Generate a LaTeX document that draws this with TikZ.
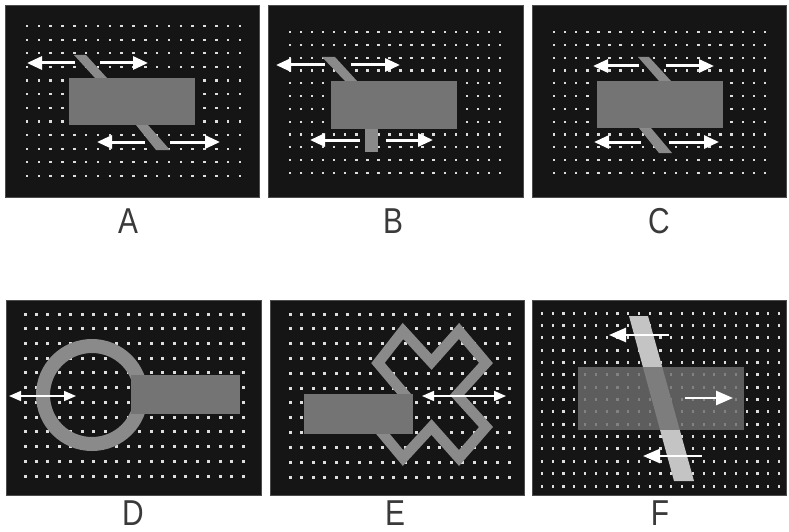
\documentclass[tikz,border=0pt]{standalone}
\usepackage{fontspec}
\setmainfont{Liberation Sans}
\usetikzlibrary{arrows.meta}

\definecolor{panelbg}{HTML}{151515}
\definecolor{dotc}{HTML}{DEDEDE}
\definecolor{occl}{HTML}{747474}
\definecolor{barc}{HTML}{8A8A8A}
\definecolor{lightbar}{HTML}{C4C4C4}
\definecolor{labc}{HTML}{3A3A3A}

% grid of small dots: x0, x1, steps in x, y0, y1, steps in y, dot width, dot height
\newcommand\dotgrid[8]{%
  \foreach \i in {0,...,#3}{%
    \foreach \j in {0,...,#6}{%
      \fill[dotc] ({#1+(#2-#1)*\i/#3-#7/2},{#4+(#5-#4)*\j/#6-#8/2}) rectangle ++(#7,#8);
    }%
  }%
}
% narrow panel letter
\newcommand\panelletter[1]{\scalebox{0.83}[1]{#1}}

\tikzset{
  panel/.style={fill=panelbg, draw=black!70, line width=0.6},
  occluder/.style={fill=occl},
  slab/.style={fill=barc},
  motion/.style={draw=white, line width=3, -{Triangle[length=15pt,width=13pt]}},
  bimotion/.style={draw=white, line width=1.6, {Triangle[length=12pt,width=10pt]}-{Triangle[length=12pt,width=10pt]}},
  fmotion/.style={draw=white, line width=2.6, -{Triangle[length=17pt,width=14pt]}},
  caption/.style={text=labc, font=\fontsize{36}{36}\selectfont, inner sep=0pt}
}

\begin{document}
\begin{tikzpicture}[x=1pt,y=-1pt]
\useasboundingbox (0,0) rectangle (789,532);
\fill[white] (0,0) rectangle (789,532);

% ---------- panel A ----------
\fill[panel] (5,5) rectangle (259,197);
\dotgrid{27}{240}{18}{26}{176}{11}{2.4}{2.2}
\fill[slab] (74,55) -- (86,55) -- (107,78) -- (95,78) -- cycle;
\fill[slab] (136,125) -- (148,125) -- (170,150) -- (156,150) -- cycle;
\fill[occluder] (69,78) rectangle (195,125);
\coordinate (a1) at (75,63);  \coordinate (a2) at (27,63);
\coordinate (a3) at (100,63); \coordinate (a4) at (148,63);
\coordinate (a5) at (145,142); \coordinate (a6) at (97,142);
\coordinate (a7) at (170,142); \coordinate (a8) at (220,142);
\draw[motion] (a1) -- (a2);
\draw[motion] (a3) -- (a4);
\draw[motion] (a5) -- (a6);
\draw[motion] (a7) -- (a8);
\node[caption] (labA) at (128,221) {\panelletter{A}};

% ---------- panel B ----------
\fill[panel] (268,5) rectangle (523,197);
\dotgrid{290}{500}{19}{32}{173}{11}{2.4}{2.2}
\fill[slab] (322,57) -- (335,57) -- (357,81) -- (345,81) -- cycle;
\fill[slab] (365,129) rectangle (378,152);
\fill[occluder] (331,81) rectangle (457,129);
\coordinate (b1) at (325,65);  \coordinate (b2) at (276,65);
\coordinate (b3) at (351,65);  \coordinate (b4) at (400,65);
\coordinate (b5) at (360,140); \coordinate (b6) at (310,140);
\coordinate (b7) at (386,140); \coordinate (b8) at (433,140);
\draw[motion] (b1) -- (b2);
\draw[motion] (b3) -- (b4);
\draw[motion] (b5) -- (b6);
\draw[motion] (b7) -- (b8);
\node[caption] (labB) at (393,221) {\panelletter{B}};

% ---------- panel C ----------
\fill[panel] (532,5) rectangle (786,197);
\dotgrid{554}{765}{19}{32}{173}{11}{2.4}{2.2}
\fill[slab] (638,57) -- (649,57) -- (671,81) -- (659,81) -- cycle;
\fill[slab] (639,128) -- (651,128) -- (672,153) -- (659,153) -- cycle;
\fill[occluder] (597,81) rectangle (723,128);
\coordinate (c1) at (639,66);  \coordinate (c2) at (593,66);
\coordinate (c3) at (666,66);  \coordinate (c4) at (714,66);
\coordinate (c5) at (641,142); \coordinate (c6) at (594,142);
\coordinate (c7) at (669,142); \coordinate (c8) at (719,142);
\draw[motion] (c1) -- (c2);
\draw[motion] (c3) -- (c4);
\draw[motion] (c5) -- (c6);
\draw[motion] (c7) -- (c8);
\node[caption] (labC) at (659,221) {\panelletter{C}};

% ---------- panel D ----------
\fill[panel] (6,300) rectangle (261,495);
\dotgrid{25}{243}{19}{314}{476}{11}{3}{3}
\draw[barc, line width=14] (92,395) circle[radius=49];
\fill[occluder] (131,375) rectangle (240,414);
\coordinate (d1) at (9,396); \coordinate (d2) at (76,396);
\draw[bimotion] (d1) -- (d2);
\node[caption] (labD) at (133,513) {\panelletter{D}};

% ---------- panel E ----------
\fill[panel] (270,300) rectangle (524,495);
\dotgrid{290}{509}{19}{314}{477}{11}{3}{3}
\draw[barc, line width=10.5, line join=miter]
  (403,331) -- (431.5,362) -- (459,331) -- (486,363) -- (457,395)
  -- (486,427) -- (459,458) -- (431.5,427) -- (403,458) -- (378,428)
  -- (405,395) -- (378,363) -- cycle;
\fill[occluder] (304,394) rectangle (413,434);
\coordinate (e1) at (422,396); \coordinate (e2) at (506,396);
\draw[bimotion] (e1) -- (e2);
\node[caption] (labE) at (395,513) {\panelletter{E}};

% ---------- panel F ----------
\fill[panel] (532,300) rectangle (786,495);
\dotgrid{542}{779}{22}{313}{486}{14}{2.2}{3}
\fill[lightbar] (629,316) -- (648,316) -- (694,481) -- (674,481) -- cycle;
\fill[fill=occl!95!black, fill opacity=0.82] (578,367) rectangle (744,430);
\coordinate (f1) at (669,335); \coordinate (f2) at (609,335);
\coordinate (f3) at (685,398); \coordinate (f4) at (733,398);
\coordinate (f5) at (702,456); \coordinate (f6) at (643,456);
\draw[fmotion] (f1) -- (f2);
\draw[fmotion] (f3) -- (f4);
\draw[fmotion] (f5) -- (f6);
\node[caption] (labF) at (660,513) {\panelletter{F}};
\end{tikzpicture}
\end{document}
